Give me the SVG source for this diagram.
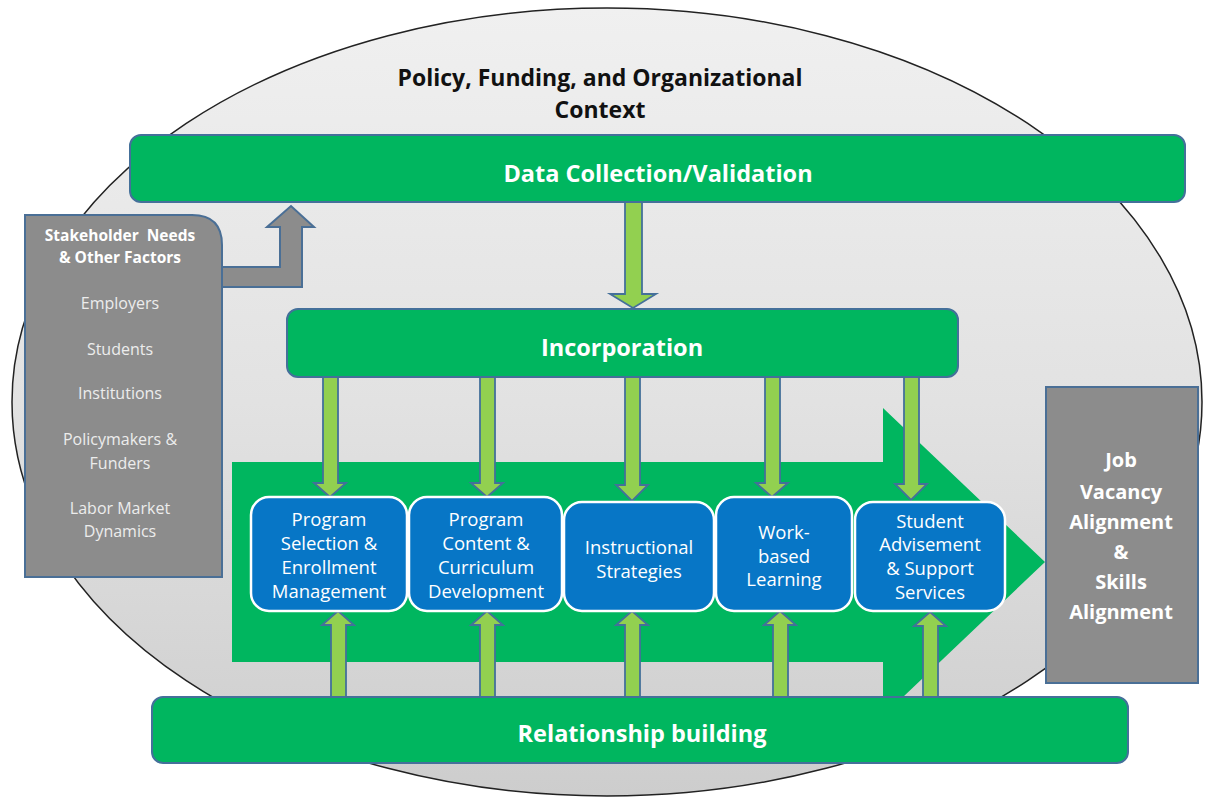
<svg xmlns="http://www.w3.org/2000/svg" width="1209" height="804" viewBox="0 0 1209 804">
<defs>
<linearGradient id="bg" x1="0" y1="0" x2="0" y2="1">
<stop offset="0" stop-color="#f0f0f0"/>
<stop offset="0.5" stop-color="#e2e2e2"/>
<stop offset="1" stop-color="#cdcdcd"/>
</linearGradient>
<style>
.bar{fill:#00b65f;stroke:#44709a;stroke-width:2}
.grey{fill:#8c8c8c;stroke:#4a6f96;stroke-width:2}
.blue{fill:#0776c6;stroke:#ffffff;stroke-width:2.5}
.arr{fill:#92d050;stroke:#44709a;stroke-width:1.8}
.t{font-family:"Open Sans","Liberation Sans",sans-serif;text-anchor:middle}
.bw{fill:#ffffff;font-weight:bold}
.w{fill:#ffffff;font-size:18.5px}
.g{fill:#ececec;font-size:16px}
</style>
</defs>
<rect width="1209" height="804" fill="#ffffff"/>
<g id="context">
<ellipse cx="607" cy="402" rx="595" ry="394" fill="url(#bg)" stroke="#222" stroke-width="1.5"/>
<text class="t" x="600" y="86" font-size="23" font-weight="bold" fill="#111">Policy, Funding, and Organizational</text>
<text class="t" x="600" y="118" font-size="23" font-weight="bold" fill="#111">Context</text>
</g>
<g id="flow-arrow">
<path d="M232,462 L883,462 L883,408 L1045,562 L883,716 L883,662 L232,662 Z" fill="#00b65f"/>
</g>
<g id="data-collection">
<rect class="bar" x="130" y="135" width="1055" height="67" rx="11"/>
<text class="t bw" x="658" y="182" font-size="23.5">Data Collection/Validation</text>
</g>
<g id="incorporation">
<rect class="bar" x="287" y="309" width="671" height="68" rx="11"/>
<text class="t bw" x="622" y="356" font-size="23.5">Incorporation</text>
</g>
<g id="relationship">
<rect class="bar" x="152" y="697" width="976" height="66" rx="11"/>
<text class="t bw" x="642" y="742" font-size="23.5">Relationship building</text>
</g>
<g id="stakeholder">
<path class="grey" d="M25,215 L192,215 Q222,215 222,245 L222,577 L25,577 Z"/>
<text class="t bw" x="120" y="241" font-size="15.5" xml:space="preserve">Stakeholder  Needs</text>
<text class="t bw" x="120" y="263" font-size="15.5">&amp; Other Factors</text>
<text class="t g" x="120" y="309">Employers</text>
<text class="t g" x="120" y="355">Students</text>
<text class="t g" x="120" y="399">Institutions</text>
<text class="t g" x="120" y="445">Policymakers &amp;</text>
<text class="t g" x="120" y="469">Funders</text>
<text class="t g" x="120" y="514">Labor Market</text>
<text class="t g" x="120" y="537">Dynamics</text>
</g>
<g id="job-vacancy">
<rect class="grey" x="1046" y="387" width="152" height="296"/>
<text class="t bw" x="1121" y="467" font-size="20">Job</text>
<text class="t bw" x="1121" y="499" font-size="20">Vacancy</text>
<text class="t bw" x="1121" y="529" font-size="20">Alignment</text>
<text class="t bw" x="1121" y="559" font-size="20">&amp;</text>
<text class="t bw" x="1121" y="589" font-size="20">Skills</text>
<text class="t bw" x="1121" y="619" font-size="20">Alignment</text>
</g>
<g id="connectors">
<path class="grey" d="M222,267 L280,267 L280,227 L267,227 L291,206 L314,227 L302,227 L302,287 L222,287 Z"/>
<path class="arr" d="M625,202 L642,202 L642,294 L656,294 L633,308 L610,294 L625,294 Z"/>
<path class="arr" d="M323,377 L338,377 L338,483 L346,483 L330,497 L314,483 L323,483 Z"/>
<path class="arr" d="M480,377 L495,377 L495,483 L503,483 L487,497 L471,483 L480,483 Z"/>
<path class="arr" d="M625,377 L640,377 L640,485 L648,485 L632,501 L616,485 L625,485 Z"/>
<path class="arr" d="M765,377 L780,377 L780,483 L788,483 L772,497 L756,483 L765,483 Z"/>
<path class="arr" d="M904,377 L919,377 L919,484 L927,484 L911,500 L895,484 L904,484 Z"/>
<path class="arr" d="M331,697 L346,697 L346,625 L354,625 L338,611 L322,625 L331,625 Z"/>
<path class="arr" d="M480,697 L495,697 L495,625 L503,625 L487,611 L471,625 L480,625 Z"/>
<path class="arr" d="M625,697 L640,697 L640,625 L648,625 L632,611 L616,625 L625,625 Z"/>
<path class="arr" d="M773,697 L788,697 L788,625 L796,625 L780,611 L764,625 L773,625 Z"/>
<path class="arr" d="M923,697 L938,697 L938,626 L946,626 L930,612 L914,626 L923,626 Z"/>
</g>
<g id="program-selection">
<rect class="blue" x="251" y="497" width="156" height="114" rx="18"/>
<text class="t w" x="329" y="526">Program</text>
<text class="t w" x="329" y="550">Selection &amp;</text>
<text class="t w" x="329" y="574">Enrollment</text>
<text class="t w" x="329" y="598">Management</text>
</g>
<g id="program-content">
<rect class="blue" x="409" y="497" width="153" height="114" rx="18"/>
<text class="t w" x="486" y="526">Program</text>
<text class="t w" x="486" y="550">Content &amp;</text>
<text class="t w" x="486" y="574">Curriculum</text>
<text class="t w" x="486" y="598">Development</text>
</g>
<g id="instructional">
<rect class="blue" x="564" y="502" width="150" height="109" rx="18"/>
<text class="t w" x="639" y="554">Instructional</text>
<text class="t w" x="639" y="578">Strategies</text>
</g>
<g id="work-based">
<rect class="blue" x="716" y="497" width="136" height="114" rx="18"/>
<text class="t w" x="784" y="539">Work-</text>
<text class="t w" x="784" y="563">based</text>
<text class="t w" x="784" y="586">Learning</text>
</g>
<g id="student-advisement">
<rect class="blue" x="855" y="502" width="150" height="109" rx="18"/>
<text class="t w" x="930" y="528">Student</text>
<text class="t w" x="930" y="551">Advisement</text>
<text class="t w" x="930" y="575">&amp; Support</text>
<text class="t w" x="930" y="599">Services</text>
</g>
</svg>
